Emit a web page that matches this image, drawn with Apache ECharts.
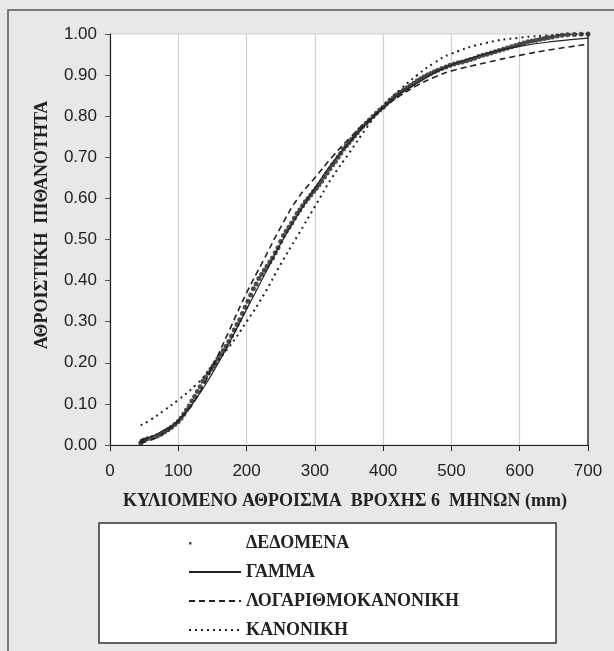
<!DOCTYPE html>
<html>
<head>
<meta charset="utf-8">
<script src="https://cdn.jsdelivr.net/npm/echarts@6/dist/echarts.min.js"></script>
<style>
html,body{margin:0;padding:0;background:#e7e8e9;}
#c{width:614px;height:651px;}
</style>
</head>
<body>
<div id="c"></div>
<script>
// Empirical cumulative probability (data points)
var dataX = [45,47,50,55,62,69,75,80,85,90,95,100,104,108,112,116,120,124,128,132,136,140,144,148,151,154,158,162,166,170,174,178,182,186,190,194,198,202,206,210,214,218,222,226,230,234,238,242,246,250,254,258,262,266,270,274,278,282,286,290,294,298,302,306,310,314,318,322,326,330,334,338,342,346,350,354,358,362,366,370,375,380,385,390,395,400,405,410,415,420,425,430,435,440,445,450,455,460,465,470,475,480,486,492,498,504,510,516,522,528,534,540,546,552,558,564,570,576,582,588,594,600,606,612,618,624,630,636,642,648,655,662,670,680,690,700];
var dataP = [0.005,0.010,0.012,0.015,0.018,0.022,0.027,0.032,0.037,0.043,0.050,0.057,0.065,0.075,0.085,0.095,0.107,0.118,0.130,0.142,0.155,0.165,0.175,0.185,0.192,0.200,0.210,0.220,0.230,0.240,0.252,0.265,0.280,0.293,0.305,0.320,0.335,0.350,0.365,0.380,0.392,0.405,0.415,0.425,0.435,0.445,0.455,0.468,0.480,0.495,0.510,0.520,0.530,0.540,0.552,0.563,0.572,0.582,0.592,0.600,0.608,0.617,0.625,0.633,0.642,0.652,0.662,0.672,0.682,0.690,0.700,0.710,0.720,0.728,0.736,0.744,0.752,0.760,0.768,0.775,0.783,0.791,0.799,0.807,0.815,0.822,0.830,0.838,0.845,0.852,0.858,0.864,0.869,0.875,0.880,0.886,0.891,0.896,0.900,0.904,0.908,0.912,0.916,0.920,0.924,0.927,0.930,0.932,0.935,0.938,0.941,0.945,0.948,0.951,0.954,0.957,0.960,0.963,0.966,0.969,0.972,0.975,0.978,0.981,0.983,0.985,0.987,0.989,0.991,0.993,0.995,0.997,0.998,0.999,0.9995,1.000];

// Fitted distributions, read at these rainfall values (mm)
var fitX      = [45,60,80,100,125,150,175,200,225,250,275,300,325,350,375,400,425,450,475,500,550,600,650,700];
var gammaP    = [0.012,0.020,0.037,0.060,0.110,0.175,0.250,0.330,0.410,0.490,0.560,0.625,0.685,0.735,0.780,0.820,0.855,0.880,0.905,0.925,0.952,0.970,0.982,0.990];
var lognormP  = [0.005,0.012,0.030,0.058,0.110,0.190,0.280,0.370,0.450,0.530,0.600,0.650,0.700,0.745,0.785,0.820,0.850,0.875,0.895,0.910,0.930,0.948,0.963,0.975];
var normalP   = [0.048,0.062,0.085,0.110,0.145,0.190,0.240,0.300,0.365,0.440,0.510,0.580,0.650,0.710,0.770,0.825,0.865,0.900,0.930,0.952,0.978,0.991,0.997,1.000];

var xTicks = [0,100,200,300,400,500,600,700];
var names = ['ΔΕΔΟΜΕΝΑ','ΓΑΜΜΑ','ΛΟΓΑΡΙΘΜΟΚΑΝΟΝΙΚΗ','ΚΑΝΟΝΙΚΗ'];
var xTitle = 'ΚΥΛΙΟΜΕΝΟ ΑΘΡΟΙΣΜΑ  ΒΡΟΧΗΣ 6  ΜΗΝΩΝ (mm)';
var yTitle = 'ΑΘΡΟΙΣΤΙΚΗ  ΠΙΘΑΝΟΤΗΤΑ';

function zip(a,b){return a.map(function(v,i){return [v,b[i]];});}

var chart = echarts.init(document.getElementById('c'), null, {renderer:'canvas'});
var serif = '"Liberation Serif","DejaVu Serif",serif';
var sans = '"Liberation Sans",Arial,sans-serif';
var ink = '#222';

chart.setOption({
  backgroundColor:'#e7e8e9',
  animation:false,
  grid:{left:110, top:34, right:26, bottom:206, show:true, backgroundColor:'#fff', borderColor:'#cfcfcf', borderWidth:1},
  xAxis:{type:'value', min:xTicks[0], max:xTicks[xTicks.length-1], interval:100,
    axisLine:{lineStyle:{color:ink,width:1.2}},
    axisTick:{show:true, length:6, lineStyle:{color:ink}},
    axisLabel:{color:ink, fontFamily:sans, fontSize:17, margin:18},
    splitLine:{show:true, lineStyle:{color:'#cfcfcf', width:1.2}}},
  yAxis:[{type:'value', min:0, max:1, interval:0.1,
    axisLine:{show:true, lineStyle:{color:ink,width:1.2}},
    axisTick:{show:true, length:5, lineStyle:{color:'#555'}},
    axisLabel:{color:ink, fontFamily:sans, fontSize:17, margin:13, formatter:function(v){return v.toFixed(2);}},
    splitLine:{show:false}},
    {type:'value', min:0, max:1, interval:0.1, position:'right',
    axisLine:{show:true, lineStyle:{color:'#444',width:1.6}},
    axisTick:{show:false}, axisLabel:{show:false}, splitLine:{show:false}}],
  legend:{orient:'vertical', left:183, top:529, itemWidth:52, itemHeight:14, itemGap:11,
    textStyle:{fontFamily:serif, fontWeight:'bold', fontSize:18, color:ink, lineHeight:18},
    data:[
      {name:names[0], icon:'path://M0,0L0.01,0M0,6L2.5,6L2.5,8.5L0,8.5ZM51.99,14L52,14'},
      {name:names[1], itemStyle:{opacity:0}},
      {name:names[2], itemStyle:{opacity:0}},
      {name:names[3], itemStyle:{opacity:0}}
    ]},
  graphic:[
    {type:'rect', z:-10, shape:{x:8, y:10, width:640, height:680}, style:{fill:'none', stroke:'#555', lineWidth:1.5}},
    {type:'rect', z:-5, shape:{x:99, y:523, width:457, height:120}, style:{fill:'#fff', stroke:'#333', lineWidth:1.5}},
    {type:'text', x:345, y:501, style:{text:xTitle, font:'bold 18px '+serif, fill:ink, textAlign:'center', textVerticalAlign:'middle'}},
    {type:'text', x:42, y:225, rotation:Math.PI/2, style:{text:yTitle, font:'bold 18px '+serif, fill:ink, textAlign:'center', textVerticalAlign:'middle'}}
  ],
  series:[
    {name:names[0], type:'scatter', data:zip(dataX,dataP), symbol:'circle', symbolSize:5, itemStyle:{color:'#1e1e1e'}, z:2},
    {name:names[1], type:'line', data:zip(fitX,gammaP), smooth:true, symbol:'none', showSymbol:false, lineStyle:{color:ink, width:1.2, type:'solid'}, itemStyle:{color:ink}, z:3},
    {name:names[2], type:'line', data:zip(fitX,lognormP), smooth:true, symbol:'none', showSymbol:false, lineStyle:{color:ink, width:1.6, type:[6,4]}, itemStyle:{color:ink}, z:3},
    {name:names[3], type:'line', data:zip(fitX,normalP), smooth:true, symbol:'none', showSymbol:false, lineStyle:{color:ink, width:2, type:[2,4]}, itemStyle:{color:ink}, z:3}
  ]
});
</script>
</body>
</html>
